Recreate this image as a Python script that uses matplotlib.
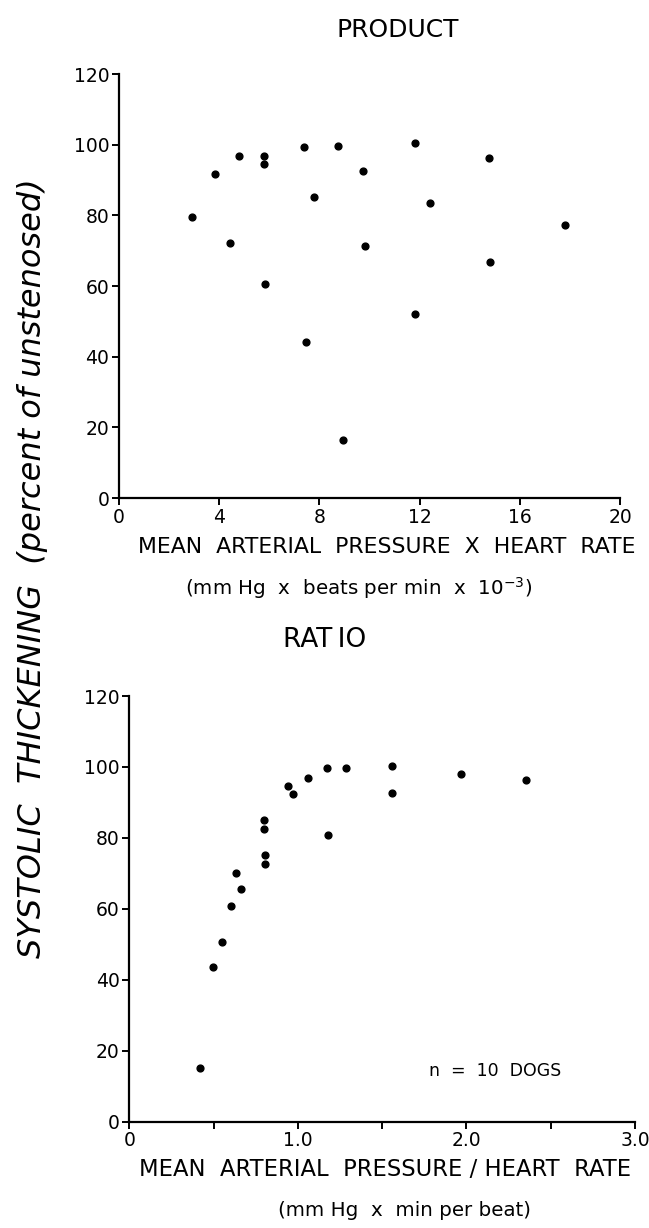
import matplotlib
matplotlib.use("Agg")
import matplotlib.pyplot as plt

# ---- data ----
product_x = [2.90, 3.84, 4.45, 4.80, 5.77, 5.77, 5.83, 7.37, 7.45, 7.77,
             8.74, 8.93, 9.76, 9.81, 11.80, 11.83, 12.42, 14.79, 14.82, 17.81]
product_y = [79.4, 91.6, 72.2, 96.7, 96.7, 94.5, 60.7, 99.3, 44.2, 85.3,
             99.7, 16.3, 92.6, 71.3, 100.5, 52.1, 83.6, 96.1, 66.9, 77.3]

ratio_x = [0.417, 0.494, 0.548, 0.605, 0.632, 0.664, 0.800, 0.800, 0.804, 0.807,
           0.940, 0.973, 1.058, 1.170, 1.178, 1.287, 1.556, 1.556, 1.970, 2.355]
ratio_y = [15.1, 43.5, 50.7, 60.7, 70.0, 65.5, 85.0, 82.5, 75.2, 72.7,
           94.5, 92.5, 97.0, 99.7, 80.8, 99.7, 100.2, 92.7, 97.9, 96.2]

y_ticks = [0, 20, 40, 60, 80, 100, 120]
product_xticks = [0, 4, 8, 12, 16, 20]
ratio_xticks = [0, 0.5, 1.0, 1.5, 2.0, 2.5, 3.0]
ratio_xticklabels = ["0", "", "1.0", "", "2.0", "", "3.0"]

plt.rcParams['font.family'] = ['DejaVu Sans']

W, H = 649, 1228
fig = plt.figure(figsize=(W / 100, H / 100), dpi=100)

def style(ax):
    for s in ("top", "right"):
        ax.spines[s].set_visible(False)
    for s in ("left", "bottom"):
        ax.spines[s].set_linewidth(1.6)
    ax.tick_params(direction="out", length=5, width=1.4, labelsize=13.5, pad=2)

ax1 = fig.add_axes([119 / W, 1 - 498 / H, 501 / W, 424 / H])
ax1.scatter(product_x, product_y, s=24, color="black", zorder=3, clip_on=False)
ax1.set_xlim(0, 20)
ax1.set_ylim(0, 120)
ax1.set_xticks(product_xticks)
ax1.set_yticks(y_ticks)
style(ax1)

ax2 = fig.add_axes([129.3 / W, 1 - 1121.7 / H, 505.7 / W, 425.7 / H])
ax2.scatter(ratio_x, ratio_y, s=24, color="black", zorder=3, clip_on=False)
ax2.set_xlim(0, 3.0)
ax2.set_ylim(0, 120)
ax2.set_xticks(ratio_xticks)
ax2.set_xticklabels(ratio_xticklabels)
ax2.set_yticks(y_ticks)
style(ax2)

def ftext(x, y, s, **kw):
    fig.text(x / W, 1 - y / H, s, ha="center", va="center", **kw)

ftext(398, 30, "PRODUCT", fontsize=18)
ftext(387, 547, "MEAN  ARTERIAL  PRESSURE  X  HEART  RATE", fontsize=15.8)
ftext(359, 588, "(mm Hg  x  beats per min  x  10$^{-3}$)", fontsize=14.3)
ftext(325, 640, "RAT\u2009IO", fontsize=19)
ftext(385, 1170, "MEAN  ARTERIAL  PRESSURE / HEART  RATE", fontsize=16.3)
ftext(405, 1211, "(mm Hg  x  min per beat)", fontsize=14.3)
ftext(495, 1071, "n  =  10  DOGS", fontsize=12.5)
ftext(33, 568, "SYSTOLIC  THICKENING  (percent of unstenosed)", fontsize=23,
      rotation=90, style="italic")

fig.savefig("out.png", dpi=100)
